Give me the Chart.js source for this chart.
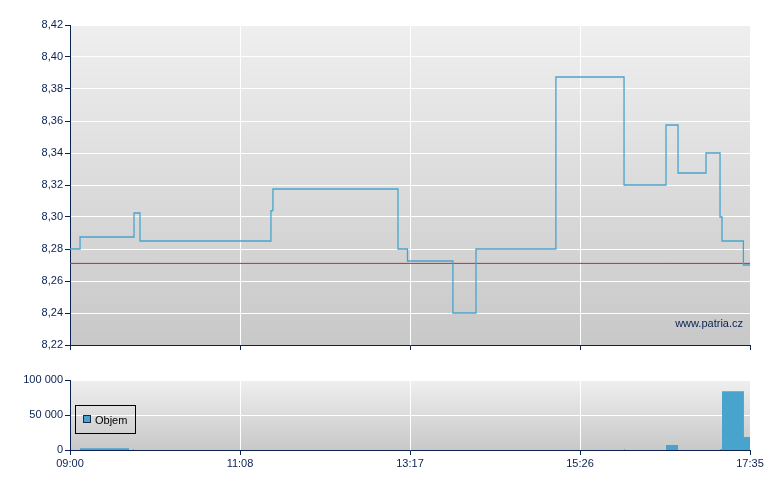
<!DOCTYPE html>
<html>
<head>
<meta charset="utf-8">
<script src="https://cdn.jsdelivr.net/npm/chart.js@4/dist/chart.umd.min.js"></script>
<style>
    body { margin: 0; background: #fff; }
    #wrap { position: relative; width: 780px; height: 490px; }
    #top-box { position: absolute; left: 0; top: 0; width: 780px; height: 360px; }
    #vol-box { position: absolute; left: 0; top: 360px; width: 780px; height: 130px; }
</style>
</head>
<body>
<div id="wrap">
    <div id="top-box"><canvas id="price" width="780" height="360"></canvas></div>
    <div id="vol-box"><canvas id="volume" width="780" height="130"></canvas></div>
</div>
<script>
// minutes since 09:00 where the price changes, and the new price
var priceTimes = [0, 7.6, 48.5, 53, 152.2, 153.7, 248.4, 255.6, 290, 307.5, 368, 419.6, 451.4, 460.5, 481.7, 492.3, 493.8, 510, 515];
var prices = [8.28, 8.2875, 8.3025, 8.285, 8.304, 8.3175, 8.28, 8.2725, 8.24, 8.28, 8.3875, 8.32, 8.3575, 8.3275, 8.34, 8.30, 8.285, 8.27, 8.27];
var prevClose = 8.271;

// traded volume blocks (value starts at given minute)
var volTimes = [0, 7.6, 44.7, 47.6, 48.4, 419.6, 420.4, 451.4, 460.5, 492.3, 493.8, 510.4, 515];
var volumes = [0, 2500, 0, 1200, 0, 1200, 0, 7000, 0, 1200, 84000, 18500, 18500];

var timeTicks = [0, 128.75, 257.5, 386.25, 515];
var timeLabels = ["09:00", "11:08", "13:17", "15:26", "17:35"];
var priceTicks = [8.22, 8.24, 8.26, 8.28, 8.30, 8.32, 8.34, 8.36, 8.38, 8.40, 8.42];
var volTicks = [0, 50000, 100000];
var legendLabel = "Objem";
var watermark = "www.patria.cz";

var NAVY = "#0b2152";
var BLUE = "#48a4cd";
var FONT = "'Liberation Sans', Arial, sans-serif";
Chart.defaults.font.family = FONT;
Chart.defaults.font.size = 11;
Chart.defaults.color = NAVY;

function toPoints(xs, ys) {
    var out = [];
    for (var i = 0; i < xs.length; i++) {
        out.push({x: xs[i], y: ys[i]});
    }
    return out;
}

var plotBackground = {
    id: "plotBackground",
    beforeDraw: function (chart) {
        var a = chart.chartArea;
        var ctx = chart.ctx;
        var g = ctx.createLinearGradient(0, a.top, 0, a.bottom);
        g.addColorStop(0, "#efefef");
        g.addColorStop(1, "#c8c8c8");
        ctx.save();
        ctx.fillStyle = g;
        ctx.fillRect(a.left, a.top, a.right - a.left, a.bottom - a.top);
        ctx.restore();
    }
};

function xAxis(showLabels, height) {
    return {
        type: "linear",
        min: 0,
        max: 515,
        afterBuildTicks: function (scale) {
            scale.ticks = timeTicks.map(function (v) { return {value: v}; });
        },
        afterFit: function (scale) { scale.height = height; },
        grid: {
            color: function (c) { return c.index === 0 ? "rgba(0,0,0,0)" : "#ffffff"; },
            tickColor: NAVY,
            tickLength: 5
        },
        border: {display: true, color: NAVY, width: 1},
        ticks: {
            display: showLabels,
            padding: 2,
            maxRotation: 0,
            color: NAVY,
            callback: function (v, i) { return timeLabels[i]; }
        }
    };
}

new Chart(document.getElementById("price"), {
    type: "line",
    data: {
        datasets: [
            {
                data: toPoints(priceTimes, prices),
                stepped: "before",
                borderColor: BLUE,
                borderWidth: 1.3,
                pointRadius: 0,
                fill: false
            },
            {
                data: toPoints([0, 515], [prevClose, prevClose]),
                borderColor: "#c82a2a",
                borderWidth: 1,
                pointRadius: 0,
                fill: false
            }
        ]
    },
    options: {
        responsive: false,
        animation: false,
        layout: {padding: {top: 25, right: 30, left: 0, bottom: 0}},
        plugins: {legend: {display: false}, tooltip: {enabled: false}},
        scales: {
            x: xAxis(false, 15),
            y: {
                min: 8.22,
                max: 8.42,
                afterBuildTicks: function (scale) {
                    scale.ticks = priceTicks.map(function (v) { return {value: v}; });
                },
                afterFit: function (scale) { scale.width = 70; },
                grid: {color: "#ffffff", tickColor: NAVY, tickLength: 5},
                border: {display: true, color: NAVY, width: 1},
                ticks: {
                    padding: 2,
                    color: NAVY,
                    callback: function (v) { return v.toFixed(2).replace(".", ","); }
                }
            }
        }
    },
    plugins: [plotBackground, {
        id: "watermark",
        afterDraw: function (chart) {
            var ctx = chart.ctx;
            var a = chart.chartArea;
            ctx.save();
            ctx.font = "11px " + FONT;
            ctx.fillStyle = NAVY;
            ctx.textAlign = "right";
            ctx.textBaseline = "alphabetic";
            ctx.fillText(watermark, a.right - 7, a.bottom - 18);
            ctx.restore();
        }
    }]
});

new Chart(document.getElementById("volume"), {
    type: "line",
    data: {
        datasets: [{
            label: legendLabel,
            data: toPoints(volTimes, volumes),
            stepped: "before",
            borderWidth: 0,
            borderColor: BLUE,
            backgroundColor: BLUE,
            pointRadius: 0,
            fill: "origin"
        }]
    },
    options: {
        responsive: false,
        animation: false,
        layout: {padding: {top: 20, right: 30, left: 0, bottom: 0}},
        plugins: {legend: {display: false}, tooltip: {enabled: false}},
        scales: {
            x: xAxis(true, 40),
            y: {
                min: 0,
                max: 100000,
                afterBuildTicks: function (scale) {
                    scale.ticks = volTicks.map(function (v) { return {value: v}; });
                },
                afterFit: function (scale) { scale.width = 70; },
                grid: {color: "#ffffff", tickColor: NAVY, tickLength: 5},
                border: {display: true, color: NAVY, width: 1},
                ticks: {
                    padding: 2,
                    color: NAVY,
                    callback: function (v) { return String(v).replace(/\B(?=(\d{3})+(?!\d))/g, " "); }
                }
            }
        }
    },
    plugins: [plotBackground, {
        id: "boxLegend",
        afterDraw: function (chart) {
            var ctx = chart.ctx;
            var a = chart.chartArea;
            var x = a.left + 5, y = a.top + 25;
            ctx.save();
            ctx.strokeStyle = "#000000";
            ctx.lineWidth = 1;
            ctx.strokeRect(x + 0.5, y + 0.5, 60, 28);
            ctx.fillStyle = BLUE;
            ctx.fillRect(x + 8, y + 10, 8, 8);
            ctx.strokeStyle = "#1a2a40";
            ctx.strokeRect(x + 8.5, y + 10.5, 7, 7);
            ctx.fillStyle = "#000000";
            ctx.font = "11px " + FONT;
            ctx.textBaseline = "alphabetic";
            ctx.fillText(legendLabel, x + 20, y + 19);
            ctx.restore();
        }
    }]
});
</script>
</body>
</html>
